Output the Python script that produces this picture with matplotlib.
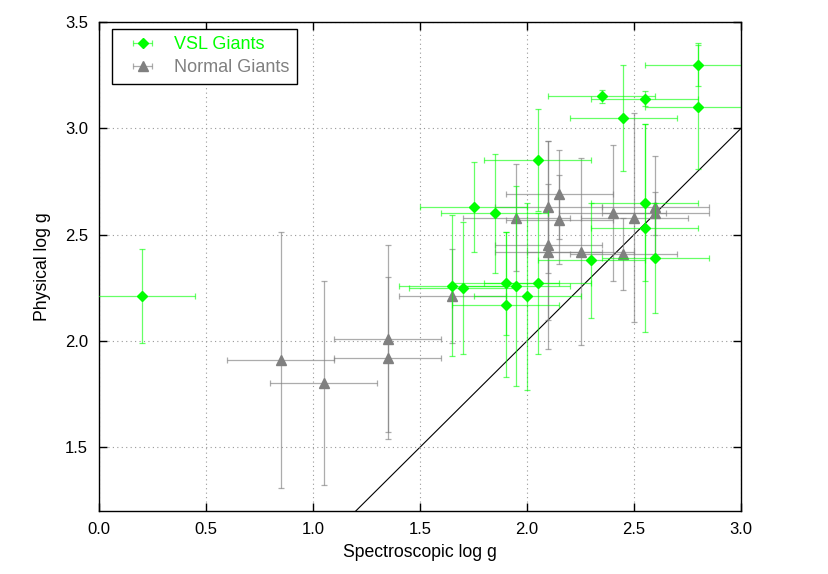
import matplotlib
matplotlib.use('Agg')
import matplotlib.pyplot as plt
from matplotlib.container import ErrorbarContainer

plt.rcParams['font.family'] = ['Liberation Sans', 'DejaVu Sans']

# VSL Giants (spectroscopic log g, physical log g, errores)
vsl_x = [0.20, 2.35, 2.55, 2.80, 2.80, 2.45, 2.05, 1.75, 1.85, 2.55,
         2.55, 2.60, 2.30, 1.65, 1.70, 1.90, 1.95, 2.05, 2.00, 1.90]
vsl_y = [2.21, 3.15, 3.14, 3.30, 3.10, 3.05, 2.85, 2.63, 2.60, 2.65,
         2.53, 2.39, 2.38, 2.26, 2.25, 2.27, 2.26, 2.27, 2.21, 2.17]
vsl_xerr = [0.25] * 20
vsl_yerr = [0.22, 0.03, 0.035, 0.10, 0.29, 0.25, 0.24, 0.21, 0.28, 0.37,
            0.49, 0.26, 0.27, 0.33, 0.31, 0.24, 0.47, 0.33, 0.44, 0.34]

# Normal Giants
norm_x = [0.85, 1.05, 1.35, 1.35, 1.65, 1.95, 2.10, 2.10, 2.10, 2.15,
          2.15, 2.25, 2.40, 2.45, 2.50, 2.60, 2.60]
norm_y = [1.91, 1.80, 2.01, 1.92, 2.21, 2.58, 2.63, 2.45, 2.42, 2.69,
          2.57, 2.42, 2.60, 2.41, 2.58, 2.63, 2.60]
norm_xerr = [0.25] * 17
norm_yerr = [0.60, 0.48, 0.44, 0.38, 0.22, 0.25, 0.31, 0.49, 0.32, 0.21,
             0.21, 0.44, 0.32, 0.17, 0.49, 0.24, 0.10]

green = '#00ff00'
gray = '#808080'

fig = plt.figure(figsize=(8.29, 5.74), dpi=100)
ax = fig.add_axes([0.1194, 0.1098, 0.7745, 0.8519])

# Linea 1:1
ax.plot([1.0, 3.0], [1.0, 3.0], color='black', lw=0.8, zorder=1)

eb_norm = ax.errorbar(norm_x, norm_y, xerr=norm_xerr, yerr=norm_yerr, fmt='^',
                      color=gray, ms=6.5, ecolor=(0.5, 0.5, 0.5, 0.65),
                      elinewidth=0.9, capsize=2.5, capthick=0.9, zorder=2)
eb_vsl = ax.errorbar(vsl_x, vsl_y, xerr=vsl_xerr, yerr=vsl_yerr, fmt='D',
                     color=green, ms=5.5, ecolor=(0.0, 1.0, 0.0, 0.6),
                     elinewidth=0.9, capsize=2.5, capthick=0.9, zorder=3)

ax.set_xlim(0.0, 3.0)
ax.set_ylim(1.2, 3.5)
ax.set_xticks([0.0, 0.5, 1.0, 1.5, 2.0, 2.5, 3.0])
ax.set_yticks([1.5, 2.0, 2.5, 3.0, 3.5])
ax.tick_params(direction='in', length=6, width=1, top=True, right=True,
               labelsize=12, pad=8)
ax.grid(True, linestyle=(0, (1, 3)), color='#999999', lw=0.8)
for s in ax.spines.values():
    s.set_linewidth(1.0)

ax.set_xlabel('Spectroscopic log g', fontsize=12.7, labelpad=5)
ax.set_ylabel('Physical log g', fontsize=12.7, labelpad=10)

# Leyenda solo con barras horizontales
def legend_handle(eb, label):
    line, caps, bars = eb.lines
    return ErrorbarContainer((line, caps, bars), has_xerr=True, has_yerr=False,
                             label=label)

h1 = legend_handle(eb_vsl, 'VSL Giants')
h2 = legend_handle(eb_norm, 'Normal Giants')
leg = ax.legend([h1, h2], ['VSL Giants', 'Normal Giants'], loc='upper left',
                bbox_to_anchor=(0.02, 0.986), borderaxespad=0, fancybox=False,
                edgecolor='black', framealpha=1, fontsize=13, handlelength=2.6,
                handletextpad=0.45, borderpad=0.4, labelspacing=0.35)
leg.get_frame().set_linewidth(1.0)
for txt, c in zip(leg.get_texts(), [green, gray]):
    txt.set_color(c)

fig.savefig('out.png', dpi=100)
